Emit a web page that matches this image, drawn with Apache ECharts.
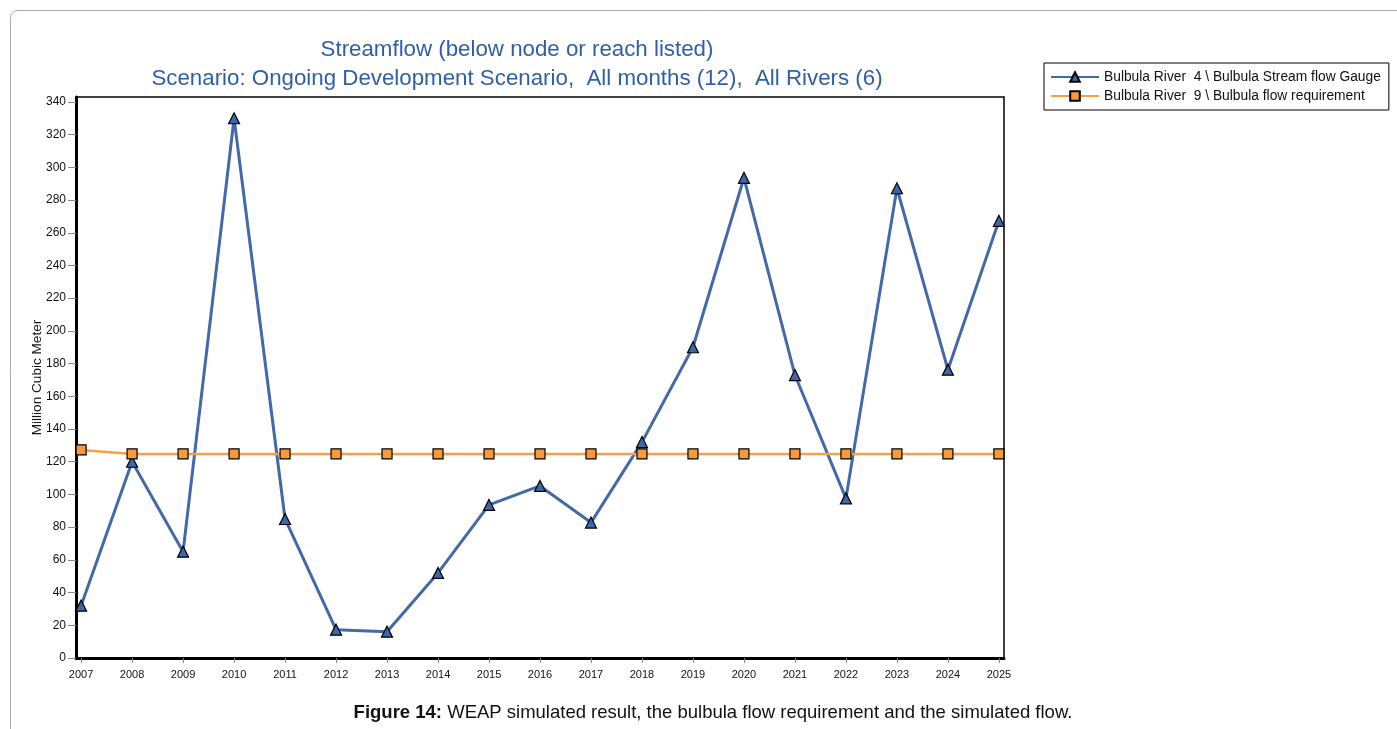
<!DOCTYPE html>
<html>
<head>
<meta charset="utf-8">
<title>Streamflow</title>
<script src="https://cdn.jsdelivr.net/npm/echarts@6/dist/echarts.min.js"></script>
<style>
  html, body { margin: 0; padding: 0; background: #fff; }
  #chart { width: 1397px; height: 729px; }
</style>
</head>
<body>
<div id="chart"></div>
<script>
// years on the x axis
const years = [2007, 2008, 2009, 2010, 2011, 2012, 2013, 2014, 2015, 2016,
               2017, 2018, 2019, 2020, 2021, 2022, 2023, 2024, 2025]
// Bulbula River 4 \ Bulbula Stream flow Gauge (Million Cubic Meter)
const gaugeFlow = [32, 120, 65, 330, 85, 17.3, 16.1, 52, 93.6, 105.2,
                   82.8, 132, 190, 293.6, 173, 97.6, 287.2, 176.3, 267.3]
// Bulbula River 9 \ Bulbula flow requirement
const flowRequirement = [127.2, 124.8, 124.8, 124.8, 124.8, 124.8, 124.8, 124.8, 124.8, 124.8,
                         124.8, 124.8, 124.8, 124.8, 124.8, 124.8, 124.8, 124.8, 124.8]
const seriesNames = ['Bulbula River  4 \\ Bulbula Stream flow Gauge',
                     'Bulbula River  9 \\ Bulbula flow requirement']
const yTicks = [0, 20, 40, 60, 80, 100, 120, 140, 160, 180, 200, 220, 240, 260, 280, 300, 320, 340]

const chart = echarts.init(document.getElementById('chart'))
const font = 'Liberation Sans, Arial, sans-serif'

chart.setOption({
  animation: false,
  textStyle: { fontFamily: font },
  title: [
    {
      text: 'Streamflow (below node or reach listed)\nScenario: Ongoing Development Scenario,  All months (12),  All Rivers (6)',
      left: 512,
      top: 30,
      textAlign: 'center',
      textStyle: { color: '#2f5fa9', fontSize: 22.3, fontWeight: 'normal', lineHeight: 29, fontFamily: font }
    },
    {
      text: '{b|Figure 14:} WEAP simulated result, the bulbula flow requirement and the simulated flow.',
      left: 708,
      top: 698,
      textAlign: 'center',
      textStyle: {
        color: '#111', fontSize: 18.5, fontWeight: 'normal', fontFamily: font,
        rich: { b: { fontWeight: 'bold', fontSize: 18.5, fontFamily: font, color: '#111' } }
      }
    }
  ],
  graphic: [
    {
      type: 'rect',
      shape: { x: 10.5, y: 10.5, width: 1500, height: 800, r: 7 },
      style: { fill: 'none', stroke: '#aaa', lineWidth: 1 },
      silent: true
    }
  ],
  legend: {
    left: 1044,
    top: 63,
    orient: 'vertical',
    padding: [7, 8, 7, 6],
    itemWidth: 48,
    itemHeight: 12,
    itemGap: 5,
    borderColor: '#000',
    borderWidth: 1,
    textStyle: { fontSize: 13.8, lineHeight: 14, color: '#111', fontFamily: font },
    data: seriesNames
  },
  grid: {
    left: 76, right: 393, top: 97, bottom: 71,
    show: true, borderColor: '#000', borderWidth: 1.5
  },
  xAxis: {
    type: 'value',
    min: 2006.9,
    max: 2025.1,
    axisLine: { show: true, lineStyle: { color: '#000', width: 3 } },
    axisTick: { show: true, length: 5, customValues: years, lineStyle: { color: '#888', width: 1 } },
    axisLabel: {
      customValues: years, margin: 11, fontSize: 11, color: '#111',
      formatter: v => String(v)
    },
    splitLine: { show: false }
  },
  yAxis: {
    type: 'value',
    min: 0,
    max: 343,
    name: 'Million Cubic Meter',
    nameLocation: 'middle',
    nameGap: 32,
    nameMoveOverlap: false,
    nameTextStyle: { fontSize: 13.6, color: '#111', fontFamily: font },
    axisLine: { show: true, lineStyle: { color: '#000', width: 3 } },
    axisTick: { show: true, length: 8, customValues: yTicks, lineStyle: { color: '#888', width: 1 } },
    axisLabel: { customValues: yTicks, margin: 10, fontSize: 12, color: '#111' },
    splitLine: { show: false }
  },
  series: [
    {
      name: seriesNames[0],
      type: 'line',
      data: years.map((y, i) => [y, gaugeFlow[i]]),
      symbol: 'triangle',
      symbolSize: 11,
      lineStyle: { color: '#4469a8', width: 3 },
      itemStyle: { color: '#3d67a8', borderColor: '#000', borderWidth: 1.2 },
      z: 3
    },
    {
      name: seriesNames[1],
      type: 'line',
      data: years.map((y, i) => [y, flowRequirement[i]]),
      symbol: 'rect',
      symbolSize: 10,
      lineStyle: { color: '#f7a044', width: 2.5 },
      itemStyle: { color: '#f79a3c', borderColor: '#000', borderWidth: 1.2 },
      z: 4
    }
  ]
})
</script>
</body>
</html>
